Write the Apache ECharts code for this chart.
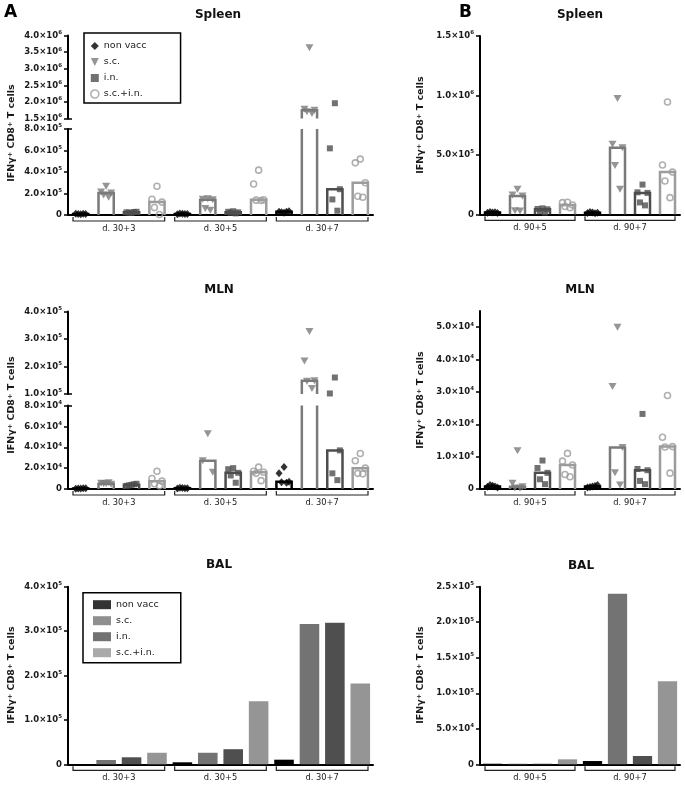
<!DOCTYPE html>
<html><head><meta charset="utf-8">
<script src="https://cdn.jsdelivr.net/npm/echarts@6/dist/echarts.min.js"></script>
<style>html,body{margin:0;padding:0;background:#fff}#c{width:685px;height:785px}</style>
</head><body><div id="c"></div>
<script>
// ---------------- data ----------------
const treatments = ['non vacc', 's.c.', 'i.n.', 's.c.+i.n.'];
const groupsA = ['d. 30+3', 'd. 30+5', 'd. 30+7'];
const groupsB = ['d. 90+5', 'd. 90+7'];

// Spleen A: individual mice, category order = group x treatment
const spleenA_points = [
  [8e3, 1.2e4, 1e4, 9e3, 1.1e4],
  [2.67e5, 2.15e5, 2.05e5, 1.85e5, 1.65e5],
  [2e4, 2.5e4, 3e4, 2.2e4, 2.8e4],
  [2.67e5, 1.47e5, 1.2e5, 7e4, 5e3],
  [1.2e4, 8e3, 1e4, 1.5e4, 9e3],
  [1.52e5, 1.47e5, 1.42e5, 6e4, 4.5e4],
  [3.5e4, 3e4, 2.5e4, 2e4, 1.5e4],
  [4.17e5, 2.88e5, 1.42e5, 1.38e5, 1.35e5],
  [2e4, 3e4, 3.5e4, 2.5e4, 3e4],
  [3.63e6, 1.78e6, 1.75e6, 1.7e6, 1.65e6],
  [1.96e6, 6.2e5, 2.4e5, 1.45e5, 4e4],
  [5.2e5, 4.85e5, 3e5, 1.75e5, 1.65e5]
];
const spleenA_median = [1e4, 2.05e5, 2.5e4, 1.2e5, 1e4, 1.42e5, 2.5e4, 1.42e5, 3e4, 1.75e6, 2.4e5, 3e5];

// Spleen B
const spleenB_points = [
  [1.5e4, 1.2e4, 1e4, 2e4, 1.8e4],
  [2.1e5, 1.62e5, 1.54e5, 3e4, 2.8e4],
  [5e4, 4.5e4, 4.2e4, 2.5e4, 1.5e4],
  [1.02e5, 9.8e4, 7.8e4, 6.5e4, 5.5e4],
  [1.5e4, 1e4, 1.2e4, 2e4, 8e3],
  [9.75e5, 5.9e5, 5.6e5, 4.1e5, 2.1e5],
  [2.5e5, 1.85e5, 1.8e5, 1e5, 7.5e4],
  [9.45e5, 4.15e5, 3.55e5, 2.8e5, 1.4e5]
];
const spleenB_median = [1.5e4, 1.54e5, 4.2e4, 7.8e4, 1.2e4, 5.6e5, 1.8e5, 3.55e5];

// MLN A
const mlnA_points = [
  [500, 300, 800, 400, 600],
  [5e3, 5.5e3, 4.5e3, 5e3, 6e3],
  [4e3, 3e3, 5e3, 3.5e3, 4.5e3],
  [1.7e4, 1e4, 7.5e3, 5e3, 3e3],
  [1e3, 500, 800, 1.2e3, 600],
  [5.3e4, 2.7e4, 1.6e4],
  [2e4, 1.9e4, 1.55e4, 1.3e4, 6e3],
  [2.1e4, 1.7e4, 1.6e4, 1.5e4, 8e3],
  [2.1e4, 1.5e4, 7e3, 6.5e3, 6e3],
  [3.27e5, 2.2e5, 1.48e5, 1.46e5, 1.2e5],
  [1.6e5, 1.02e5, 3.7e4, 1.5e4, 8.5e3],
  [3.4e4, 2.7e4, 2e4, 1.5e4, 1.45e4]
];
const mlnA_median = [500, 5e3, 4e3, 7.5e3, 800, 2.7e4, 1.55e4, 1.6e4, 7e3, 1.48e5, 3.7e4, 2e4];

// MLN B
const mlnB_points = [
  [1e3, 700, 500, 1.2e3, 800],
  [1.18e4, 1.8e3, 700, 300, 200],
  [8.8e3, 6.5e3, 5e3, 3e3, 1.5e3],
  [1.1e4, 8.6e3, 7.4e3, 4.5e3, 3.8e3],
  [800, 500, 1.2e3, 600, 900],
  [5e4, 3.17e4, 1.28e4, 5e3, 1.2e3],
  [2.32e4, 6.2e3, 5.8e3, 2.5e3, 1.5e3],
  [2.89e4, 1.6e4, 1.31e4, 1.3e4, 4.9e3]
];
const mlnB_median = [800, 700, 5e3, 7.4e3, 800, 1.28e4, 5.8e3, 1.31e4];

// BAL (pooled)
const balA = [500, 9.7e3, 1.58e4, 2.6e4, 4.5e3, 2.6e4, 3.4e4, 1.42e5, 1.04e4, 3.16e5, 3.19e5, 1.82e5];
const balB = [800, 800, 800, 7e3, 4.6e3, 2.4e5, 1.17e4, 1.17e5];

// ---------------- styles ----------------
const COL = ['#000000', '#7a7a7a', '#4d4d4d', '#9c9c9c'];
const BALCOL = ['#000000', '#737373', '#4f4f4f', '#959595'];
const SYM = ['diamond', 'path://M0,0L10,0L5,10Z', 'rect', 'circle'];
const SYMSIZE = [[7, 8], [8, 7], 6, 6];
const JIT = [0, -5, 5, -2.5, 2.5];
const FONT = 'DejaVu Sans';
const TXT = '#1a1a1a';

const catsA = [];
groupsA.forEach(g => treatments.forEach(t => catsA.push(g + ' ' + t)));
const catsB = [];
groupsB.forEach(g => treatments.forEach(t => catsB.push(g + ' ' + t)));

function sci(v) {
  if (v === 0) return '0';
  const e = Math.floor(Math.log10(v) + 1e-9);
  const m = v / Math.pow(10, e);
  return '{m|' + m.toFixed(1) + '×10}{e|' + e + '}';
}
const axisLabel = {
  fontFamily: FONT, fontWeight: 'bold', fontSize: 8.5, color: TXT, margin: 6, formatter: sci,
  rich: {
    m: {fontFamily: FONT, fontWeight: 'bold', fontSize: 8.5, color: TXT, lineHeight: 12},
    e: {fontFamily: FONT, fontWeight: 'bold', fontSize: 5.5, color: TXT, verticalAlign: 'top'}
  }
};

const grids = [
  {left: 68, top: 35.5, width: 305, height: 83},
  {left: 68, top: 129, width: 305, height: 86},
  {left: 480, top: 36, width: 200, height: 178.3},
  {left: 68, top: 311.5, width: 305, height: 82.5},
  {left: 68, top: 405.5, width: 305, height: 83.5},
  {left: 480, top: 311, width: 200, height: 178},
  {left: 68, top: 586.7, width: 305, height: 177.6},
  {left: 480, top: 586.7, width: 200, height: 177.6}
].map(g => Object.assign({outerBoundsMode: 'none', containLabel: false}, g));

// y axis settings per grid
const yCfg = [
  {min: 1.5e6, max: 4e6, interval: 5e5, brk: 1.5e6},
  {min: 0, max: 8e5, interval: 2e5, brk: 8e5},
  {min: 0, max: 1.5e6, interval: 5e5},
  {min: 1e5, max: 4e5, interval: 1e5, brk: 1e5},
  {min: 0, max: 8e4, interval: 2e4, brk: 8e4},
  {min: 0, max: 55000, interval: 1e4, custom: [0, 1e4, 2e4, 3e4, 4e4, 5e4]},
  {min: 0, max: 4e5, interval: 1e5},
  {min: 0, max: 2.5e5, interval: 5e4}
];
const upperGrids = [0, 3];
const gridCats = [catsA, catsA, catsB, catsA, catsA, catsB, catsA, catsB];

const xAxis = grids.map((g, i) => ({
  type: 'category', gridIndex: i, data: gridCats[i], boundaryGap: true,
  axisLine: {show: upperGrids.indexOf(i) < 0, lineStyle: {color: '#000', width: 2}},
  axisTick: {show: false}, axisLabel: {show: false}, splitLine: {show: false}
}));
const yAxis = yCfg.map((c, i) => {
  const lab = Object.assign({}, axisLabel);
  const tick = {show: true, length: 4, lineStyle: {color: '#000', width: 1.5}};
  if (c.custom) { lab.customValues = c.custom; tick.customValues = c.custom; }
  return {
    type: 'value', gridIndex: i, min: c.min, max: c.max, interval: c.interval, position: 'left',
    axisLine: {show: true, lineStyle: {color: '#000', width: 2}},
    axisTick: tick, axisLabel: lab, splitLine: {show: false}
  };
});
// inner half of the axis-break marks
yCfg.forEach((c, i) => {
  if (c.brk === undefined) return;
  yAxis.push({
    type: 'value', gridIndex: i, min: c.min, max: c.max, interval: c.interval, position: 'left',
    axisLine: {show: false}, axisLabel: {show: false}, splitLine: {show: false},
    axisTick: {show: true, inside: true, length: 4, customValues: [c.brk], lineStyle: {color: '#000', width: 1.5}}
  });
});

const series = [];

function hollowBars(gi, medians) {
  series.push({
    type: 'custom', xAxisIndex: gi, yAxisIndex: gi, z: 2, silent: true,
    data: medians.map((v, i) => [i, v]),
    renderItem: function (params, api) {
      const i = api.value(0), v = api.value(1);
      const cs = params.coordSys;
      const bw = api.size([1, 0])[0] * 0.6;
      const c = api.coord([i, v]);
      const base = cs.y + cs.height;
      if (c[1] > base) return null;
      let top = c[1], open = false;
      if (top < cs.y) { top = cs.y; open = true; }
      const x0 = c[0] - bw / 2, x1 = c[0] + bw / 2;
      const st = {stroke: COL[i % 4], lineWidth: 2.5, fill: null};
      if (open) {
        return {type: 'group', children: [
          {type: 'line', shape: {x1: x0, y1: base, x2: x0, y2: top}, style: st},
          {type: 'line', shape: {x1: x1, y1: base, x2: x1, y2: top}, style: st}
        ]};
      }
      return {type: 'polyline', shape: {points: [[x0, base], [x0, top], [x1, top], [x1, base]]}, style: st};
    }
  });
}

function dots(gi, points, lo, hi) {
  treatments.forEach((t, ti) => {
    const data = [];
    points.forEach((list, ci) => {
      if (ci % 4 !== ti) return;
      list.forEach((v, k) => {
        if (v >= lo && v <= hi) data.push({value: [ci, v], symbolOffset: [JIT[k % JIT.length], 0]});
      });
    });
    const style = ti === 3
      ? {color: 'rgba(0,0,0,0)', borderColor: COL[3], borderWidth: 1.6}
      : {color: COL[ti]};
    series.push({
      type: 'scatter', name: t, xAxisIndex: gi, yAxisIndex: gi, z: 3, silent: true,
      symbol: SYM[ti], symbolSize: SYMSIZE[ti], itemStyle: style, data: data
    });
  });
}

function brackets(gi, groups) {
  series.push({
    type: 'custom', xAxisIndex: gi, yAxisIndex: gi, silent: true, clip: false,
    data: groups.map((g, k) => [k * 4, k * 4 + 3]),
    renderItem: function (params, api) {
      const cs = params.coordSys;
      const bw = api.size([1, 0])[0];
      const a = api.coord([api.value(0), 0]), b = api.coord([api.value(1), 0]);
      const base = cs.y + cs.height;
      const x0 = a[0] - bw / 2 + 5, x1 = b[0] + bw / 2 - 5;
      const y = base + 6;
      return {type: 'group', children: [
        {type: 'polyline', shape: {points: [[x0, y - 4], [x0, y], [x1, y], [x1, y - 4]]},
         style: {stroke: '#222', lineWidth: 1.2, fill: null}},
        {type: 'text', style: {text: groups[params.dataIndex], x: (x0 + x1) / 2, y: y + 8,
          align: 'center', verticalAlign: 'middle', fontFamily: FONT, fontSize: 8.3, fill: TXT}}
      ]};
    }
  });
}

function balBars(gi, vals) {
  treatments.forEach((t, ti) => {
    const data = [];
    vals.forEach((v, ci) => { if (ci % 4 === ti) data.push([ci, v]); });
    series.push({
      type: 'bar', name: t, xAxisIndex: gi, yAxisIndex: gi, barGap: '-100%', barWidth: '77%',
      itemStyle: {color: BALCOL[ti]}, silent: true, data: data
    });
  });
}

// Spleen A (split axis)
hollowBars(0, spleenA_median); dots(0, spleenA_points, 1.5e6, Infinity);
hollowBars(1, spleenA_median); dots(1, spleenA_points, 0, 8e5); brackets(1, groupsA);
// Spleen B
hollowBars(2, spleenB_median); dots(2, spleenB_points, 0, Infinity); brackets(2, groupsB);
// MLN A (split axis)
hollowBars(3, mlnA_median); dots(3, mlnA_points, 1e5, Infinity);
hollowBars(4, mlnA_median); dots(4, mlnA_points, 0, 8e4); brackets(4, groupsA);
// MLN B
hollowBars(5, mlnB_median); dots(5, mlnB_points, 0, Infinity); brackets(5, groupsB);
// BAL
balBars(6, balA); brackets(6, groupsA);
balBars(7, balB); brackets(7, groupsB);

const titleStyle = {fontFamily: FONT, fontWeight: 'bold', fontSize: 12, color: '#111'};
const titles = [
  ['Spleen', 218, 9], ['Spleen', 580, 9], ['MLN', 219, 284], ['MLN', 580, 284], ['BAL', 219, 559], ['BAL', 581, 560]
].map(t => ({text: t[0], left: t[1], top: t[2], textAlign: 'center', padding: 0, textStyle: titleStyle}));

function yTitle(x, y) {
  return {
    type: 'text', x: x, y: y, rotation: Math.PI / 2, silent: true,
    style: {
      text: 'IFNγ{s|+} CD8{s|+} T cells', align: 'center', verticalAlign: 'middle',
      fontFamily: FONT, fontWeight: 'bold', fontSize: 9.5, fill: TXT,
      rich: {s: {fontFamily: FONT, fontWeight: 'bold', fontSize: 6.5, fill: TXT, verticalAlign: 'top'}}
    }
  };
}
const graphic = [
  {type: 'text', x: 4, y: 4, silent: true, style: {text: 'A', fontFamily: FONT, fontWeight: 'bold', fontSize: 17, fill: '#000'}},
  {type: 'text', x: 459, y: 4, silent: true, style: {text: 'B', fontFamily: FONT, fontWeight: 'bold', fontSize: 17, fill: '#000'}},
  yTitle(12, 133), yTitle(12, 405), yTitle(12, 675),
  yTitle(421, 125), yTitle(421, 400), yTitle(421, 675)
];

const legendText = {fontFamily: FONT, fontSize: 9.5, color: TXT};
const legend = [
  {
    left: 84, top: 33, orient: 'vertical', selectedMode: false, itemWidth: 8, itemHeight: 8, itemGap: 6,
    borderColor: '#000', borderWidth: 1.5, borderRadius: 0, padding: [8, 34, 4, 6], textStyle: legendText,
    data: [
      {name: 'non vacc', icon: 'diamond', itemStyle: {color: COL[0]}},
      {name: 's.c.', icon: 'path://M0,0L10,0L5,10Z', itemStyle: {color: COL[1]}},
      {name: 'i.n.', icon: 'rect', itemStyle: {color: COL[2]}},
      {name: 's.c.+i.n.', icon: 'circle', itemStyle: {color: '#fff', borderColor: COL[3], borderWidth: 1.6}}
    ]
  },
  {
    left: 83, top: 592.7, orient: 'vertical', selectedMode: false, itemWidth: 18, itemHeight: 9, itemGap: 6,
    borderColor: '#000', borderWidth: 1.5, borderRadius: 0, padding: [7, 22, 5, 10], textStyle: legendText,
    data: treatments.map((t, ti) => ({name: t, icon: 'rect', itemStyle: {color: BALCOL[ti], borderWidth: 0}}))
  }
];

const chart = echarts.init(document.getElementById('c'), null, {renderer: 'canvas'});
chart.setOption({
  animation: false, backgroundColor: '#fff',
  title: titles, legend: legend, graphic: graphic,
  grid: grids, xAxis: xAxis, yAxis: yAxis, series: series
});
</script>
</body></html>
